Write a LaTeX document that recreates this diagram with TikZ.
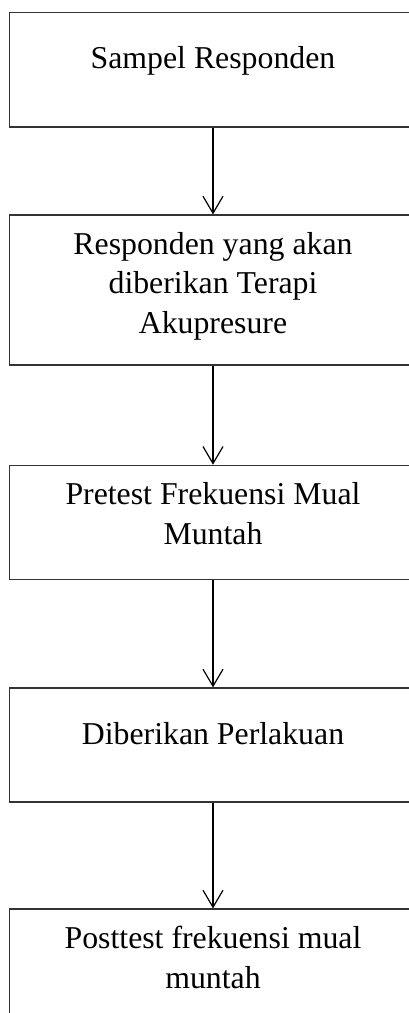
\documentclass[tikz,border=0pt]{standalone}
\usepackage{fontspec}
\setmainfont{Liberation Serif}
\usetikzlibrary{arrows.meta}
\begin{document}
\begin{tikzpicture}[x=1pt,y=-1pt,
  box/.style={draw=black!80, line width=1.2pt, rectangle, minimum width=407.4pt, inner sep=0pt},
  lbl/.style={anchor=base, inner sep=0pt, font=\fontsize{31.8}{39.5}\selectfont},
  flow/.style={draw=black, line width=1.2pt, -{Straight Barb[length=17pt,width=20pt,line width=1.2pt]}}]
\useasboundingbox (0,0) rectangle (409,1013);
\clip (0,0) rectangle (409,1013);
% boxes
\node[box, minimum height=114.2pt] (b1) at (213,69.8) {};
\node[box, minimum height=150pt] (b2) at (213,290) {};
\node[box, minimum height=114pt] (b3) at (213,522.3) {};
\node[box, minimum height=114pt] (b4) at (213,745) {};
\node[box, minimum height=114pt] (b5) at (213,966) {};
% texts
\node[lbl] (t1) at (213,68.3) {Sampel Responden};
\node[lbl] (t2) at (213,254) {\begin{tabular}[t]{@{}c@{}}Responden yang akan\\diberikan Terapi\\Akupresure\end{tabular}};
\node[lbl] (t3) at (213,504.5) {\begin{tabular}[t]{@{}c@{}}Pretest Frekuensi Mual\\Muntah\end{tabular}};
\node[lbl] (t4) at (213,744.5) {Diberikan Perlakuan};
\node[lbl] (t5) at (213,948.5) {\begin{tabular}[t]{@{}c@{}}Posttest frekuensi mual\\muntah\end{tabular}};
% connectors
\draw[flow] (b1.south) -- (b2.north);
\draw[flow] (b2.south) -- (b3.north);
\draw[flow] (b3.south) -- (b4.north);
\draw[flow] (b4.south) -- (b5.north);
\end{tikzpicture}
\end{document}
